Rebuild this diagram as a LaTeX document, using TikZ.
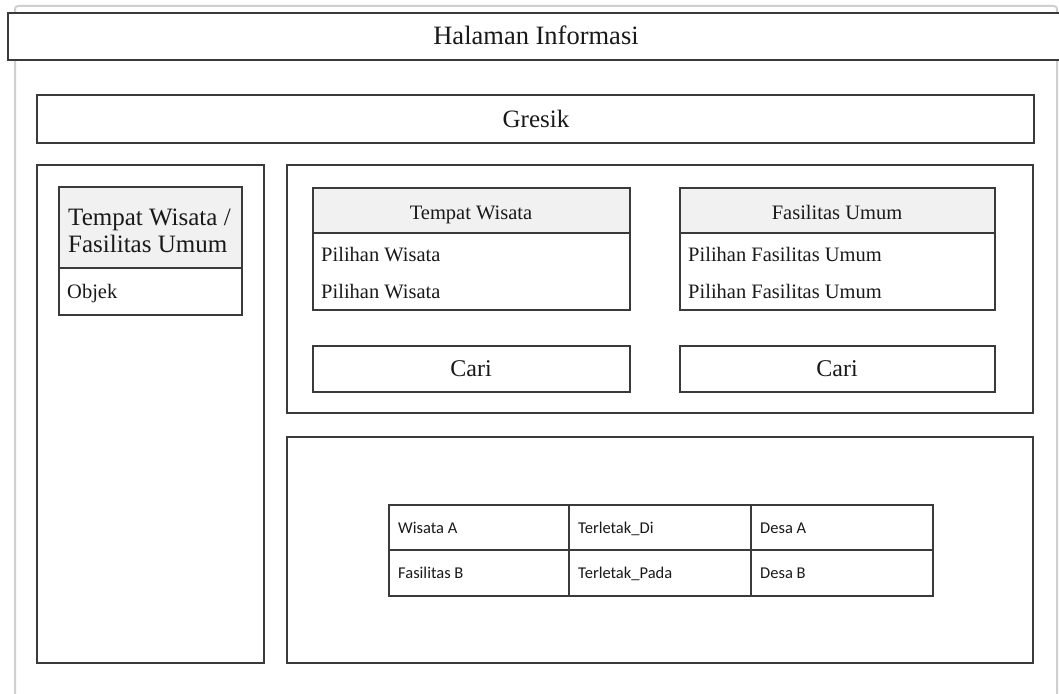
\documentclass[tikz,border=0pt]{standalone}
\usepackage{fontspec}
\setmainfont{Liberation Serif}
\newfontfamily\cellfont{Carlito}
\newcommand{\sizeT}{\fontsize{26.5}{29}\selectfont}
\newcommand{\sizeL}{\fontsize{25}{27}\selectfont}
\newcommand{\sizeB}{\fontsize{24}{27}\selectfont}
\newcommand{\sizeM}{\fontsize{20.5}{23}\selectfont}
\newcommand{\sizeS}{\fontsize{16.5}{19}\selectfont}
\definecolor{edge}{HTML}{3A3A3A}
\definecolor{frame}{HTML}{CFCFCF}
\definecolor{headfill}{HTML}{F1F1F1}
\begin{document}
\begin{tikzpicture}[x=1pt,y=-1pt,
  box/.style={draw=edge,line width=1.3pt,fill=white,anchor=north west,inner sep=0pt,outer sep=0pt},
  head/.style={box,fill=headfill},
  txt/.style={inner sep=0pt,text=black!90},
  cell/.style={txt,anchor=base west,font=\cellfont\sizeS},
]
\useasboundingbox (0,0) rectangle (1059,693);
\clip (0,0) rectangle (1059,693);
\fill[white] (0,0) rectangle (1059,693);

% page frame
\draw[frame,line width=2pt,rounded corners=3pt] (15,700) -- (15,6) -- (1057,6) -- (1057,700);

% title bar
\node[box,minimum width=1060pt,minimum height=47pt] (titlebar) at (8,13) {};
\node[txt,anchor=base,font=\sizeT] (title) at (536,45) {Halaman Informasi};

% city banner
\node[box,minimum width=997pt,minimum height=48pt] (city) at (37,95) {};
\node[txt,anchor=base,font=\sizeL] (citytxt) at (536,127) {Gresik};

% left panel with category card
\node[box,minimum width=227pt,minimum height=498pt] (leftpanel) at (37,165) {};
\node[box,minimum width=183pt,minimum height=128pt] (catcard) at (59,187) {};
\node[head,minimum width=183pt,minimum height=81pt] (cathead) at (59,187) {};
\node[txt,anchor=base west,font=\sizeL] (cattitle) at (68,225) {Tempat Wisata /};
\node[txt,anchor=base west,font=\sizeL] (cattitle2) at (68,252) {Fasilitas Umum};
\node[txt,anchor=base west,font=\sizeM] (catitem) at (67,298) {Objek};

% search panel
\node[box,minimum width=746pt,minimum height=248pt] (searchpanel) at (287,165) {};

\node[box,minimum width=317pt,minimum height=122pt] (wisatacard) at (313,188) {};
\node[head,minimum width=317pt,minimum height=45pt] (wisatahead) at (313,188) {};
\node[txt,anchor=base,font=\sizeM] (wisatatitle) at (471,219) {Tempat Wisata};
\node[txt,anchor=base west,font=\sizeM] (wisata1) at (321,261) {Pilihan Wisata};
\node[txt,anchor=base west,font=\sizeM] (wisata2) at (321,298) {Pilihan Wisata};

\node[box,minimum width=315pt,minimum height=122pt] (fascard) at (680,188) {};
\node[head,minimum width=315pt,minimum height=45pt] (fashead) at (680,188) {};
\node[txt,anchor=base,font=\sizeM] (fastitle) at (837,219) {Fasilitas Umum};
\node[txt,anchor=base west,font=\sizeM] (fas1) at (688,261) {Pilihan Fasilitas Umum};
\node[txt,anchor=base west,font=\sizeM] (fas2) at (688,298) {Pilihan Fasilitas Umum};

\node[box,minimum width=317pt,minimum height=46pt] (cari1) at (313,346) {};
\node[txt,anchor=base,font=\sizeB] (cari1txt) at (471,376) {Cari};
\node[box,minimum width=315pt,minimum height=46pt] (cari2) at (680,346) {};
\node[txt,anchor=base,font=\sizeB] (cari2txt) at (837,376) {Cari};

% result panel with table
\node[box,minimum width=746pt,minimum height=226pt] (resultpanel) at (287,437) {};
\node[box,minimum width=544pt,minimum height=91pt] (grid) at (389,505) {};
\draw[edge,line width=1.3pt] (grid.west |- 0,550) -- (grid.east |- 0,550);
\draw[edge,line width=1.3pt] (569,0 |- grid.north) -- (569,0 |- grid.south);
\draw[edge,line width=1.3pt] (751,0 |- grid.north) -- (751,0 |- grid.south);

\node[cell] (c11) at (398,533) {Wisata A};
\node[cell] (c12) at (578,533) {Terletak\_Di};
\node[cell] (c13) at (760,533) {Desa A};
\node[cell] (c21) at (398,578) {Fasilitas B};
\node[cell] (c22) at (578,578) {Terletak\_Pada};
\node[cell] (c23) at (760,578) {Desa B};
\end{tikzpicture}
\end{document}
